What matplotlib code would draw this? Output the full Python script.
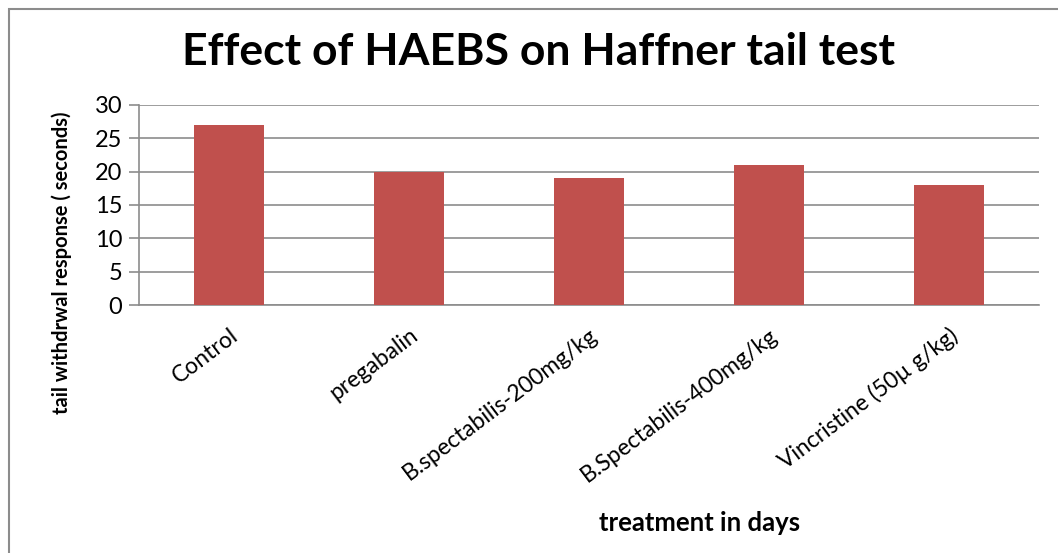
import matplotlib.pyplot as plt
import matplotlib.patches as mpatches
import numpy as np

plt.rcParams['font.family'] = ['Lato', 'DejaVu Sans']

groupes = ["Control", "pregabalin", "B.spectabilis-200mg/kg",
           "B.Spectabilis-400mg/kg", "Vincristine (50\u00b5 g/kg)"]
valeurs = [27, 20, 19, 21, 18]
graduations = [0, 5, 10, 15, 20, 25, 30]

fig = plt.figure(figsize=(10.58, 5.53), dpi=100)
ax = fig.add_axes([139/1058, 1 - 305/553, 900/1058, 200/553])

x = np.arange(len(groupes))
ax.bar(x, valeurs, width=0.39, color='#C0504D', zorder=3)

ax.set_xlim(-0.5, len(groupes) - 0.5)
ax.set_ylim(0, 30)
ax.set_yticks(graduations)
ax.yaxis.grid(True, color='#8c8c8c', linewidth=1.2, zorder=0)
ax.tick_params(axis='y', labelsize=17, length=7, color='#8c8c8c', width=1.2, pad=5)
ax.tick_params(axis='x', length=0, pad=14)
ax.set_xticks(x)
ax.set_xticklabels(groupes, rotation=37, ha='right', rotation_mode='anchor',
                   fontsize=16.5)
for s in ['top', 'right']:
    ax.spines[s].set_visible(False)
ax.spines['left'].set_color('#8c8c8c')
ax.spines['bottom'].set_color('#8c8c8c')
ax.spines['left'].set_linewidth(1.2)
ax.spines['bottom'].set_linewidth(1.2)

fig.text(62/1058, 1 - 263/553, "tail withdrwal response ( seconds)",
         rotation=90, ha='center', va='center', fontsize=14.5, fontweight='bold')

fig.text(538/1058, 1 - 52/553, "Effect of HAEBS on Haffner tail test",
         ha='center', va='center', fontsize=32, fontweight='bold')
fig.text(700/1058, 1 - 523/553, "treatment in days",
         ha='center', va='center', fontsize=18.5, fontweight='bold')

# cadre gris autour du graphique
cadre = mpatches.Rectangle((9/1058, -0.05), 1.1, 1 - 9/553 + 0.05,
                           transform=fig.transFigure, fill=False,
                           edgecolor='#8c8c8c', linewidth=1.5)
fig.patches.append(cadre)

fig.savefig("out.png", dpi=100)
